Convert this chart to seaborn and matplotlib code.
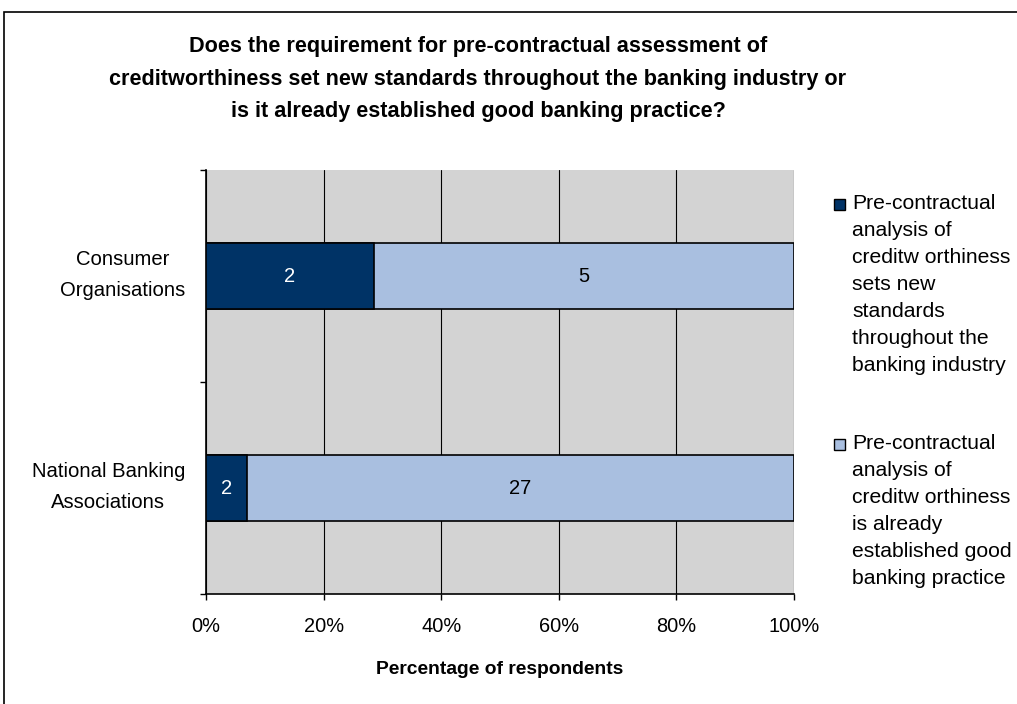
import matplotlib
matplotlib.use("Agg")
import matplotlib.pyplot as plt
import matplotlib.transforms as mtransforms
from matplotlib.patches import Rectangle
import seaborn as sns
import pandas as pd

categories = ["Consumer\nOrganisations", "National Banking\nAssociations"]
new_standards = [2, 2]
established = [5, 27]
x_ticks = [0, 20, 40, 60, 80, 100]
x_tick_labels = ["0%", "20%", "40%", "60%", "80%", "100%"]
legend_labels = [
    "Pre-contractual\nanalysis of\ncreditw orthiness\nsets new\nstandards\nthroughout the\nbanking industry",
    "Pre-contractual\nanalysis of\ncreditw orthiness\nis already\nestablished good\nbanking practice",
]
title = ("Does the requirement for pre-contractual assessment of\n"
         "creditworthiness set new standards throughout the banking industry or\n"
         "is it already established good banking practice?")

DARK = "#003366"
LIGHT = "#A9BFE0"
BG = "#D3D3D3"

sns.set_theme(style="white")
plt.rcParams["font.family"] = ["Liberation Sans", "DejaVu Sans"]
plt.rcParams["text.color"] = "black"
plt.rcParams["xtick.color"] = "black"
plt.rcParams["ytick.color"] = "black"
plt.rcParams["axes.labelcolor"] = "black"

totals = [a + b for a, b in zip(new_standards, established)]
df = pd.DataFrame({
    "category": categories,
    "dark_pct": [a / t * 100 for a, t in zip(new_standards, totals)],
    "total_pct": [100.0 for _ in totals],
    "new": new_standards,
    "est": established,
})

fig = plt.figure(figsize=(10.17, 7.04), dpi=100)
fig.patch.set_facecolor("white")
fig.patches.append(Rectangle((4 / 1017, -0.01), 1.1, 1 - 12 / 704 + 0.01,
                             transform=fig.transFigure, fill=False,
                             edgecolor="black", linewidth=1.2))

ax = fig.add_axes([206 / 1017, 1 - 594 / 704, (794 - 206) / 1017, (594 - 170) / 704])
ax.set_facecolor(BG)

sns.barplot(data=df, x="total_pct", y="category", orient="h", color=LIGHT,
            edgecolor="black", linewidth=1.2, width=0.31, saturation=1, ax=ax, zorder=3)
sns.barplot(data=df, x="dark_pct", y="category", orient="h", color=DARK,
            edgecolor="black", linewidth=1.2, width=0.31, saturation=1, ax=ax, zorder=4)

for i, row in df.iterrows():
    ax.text(row["dark_pct"] / 2, i, str(row["new"]), color="white",
            ha="center", va="center", fontsize=14.5, zorder=5)
    ax.text((row["dark_pct"] + 100) / 2, i, str(row["est"]), color="black",
            ha="center", va="center", fontsize=14.5, zorder=5)

ax.set_xlim(0, 100)
ax.set_ylim(1.5, -0.5)
ax.set_xticks(x_ticks)
ax.set_xticklabels(x_tick_labels, fontsize=14.4)
ax.set_yticks([0, 1])
ax.set_yticklabels(["", ""])
ax.set_yticks([-0.5, 0.5, 1.5], minor=True)
ax.tick_params(axis="y", which="major", length=0)
ax.tick_params(axis="y", which="minor", length=4.5, width=1, color="black", direction="out", left=True)
ax.tick_params(axis="x", which="major", length=4.5, width=1, color="black", direction="out", bottom=True, pad=12)

# category labels, placed on the category positions of the axis
lab_trans = mtransforms.blended_transform_factory(ax.transAxes, ax.transData) + \
    mtransforms.ScaledTranslation(-21 / 100, 1 / 100, fig.dpi_scale_trans)
for i, cat in enumerate(categories):
    ax.text(0, i, cat, transform=lab_trans, ha="right", va="center",
            multialignment="center", fontsize=14.6, linespacing=1.85)

ax.xaxis.grid(True, color="black", linewidth=0.8, zorder=1)
ax.set_axisbelow(True)
ax.set_ylabel("")
ax.set_xlabel("Percentage of respondents", fontsize=13.9, fontweight="bold", labelpad=18)
for s in ["top", "right"]:
    ax.spines[s].set_visible(False)
for s in ["left", "bottom"]:
    ax.spines[s].set_color("black")
    ax.spines[s].set_linewidth(1.2)

fig.text(478 / 1017, 1 - 79 / 704, title, ha="center", va="center", fontsize=15.6,
         fontweight="bold", linespacing=1.72, transform=fig.transFigure)

# legend
legend_colors = [DARK, LIGHT]
legend_tops = [194, 434]
for lab, col, top in zip(legend_labels, legend_colors, legend_tops):
    fig.patches.append(Rectangle((834 / 1017, 1 - (top + 16) / 704), 11 / 1017, 11 / 704,
                                 transform=fig.transFigure, facecolor=col,
                                 edgecolor="black", linewidth=1))
    fig.text(852 / 1017, 1 - top / 704, lab, ha="left", va="top", fontsize=15.2,
             linespacing=1.53, transform=fig.transFigure)

fig.savefig("out.png", dpi=100, facecolor="white")
